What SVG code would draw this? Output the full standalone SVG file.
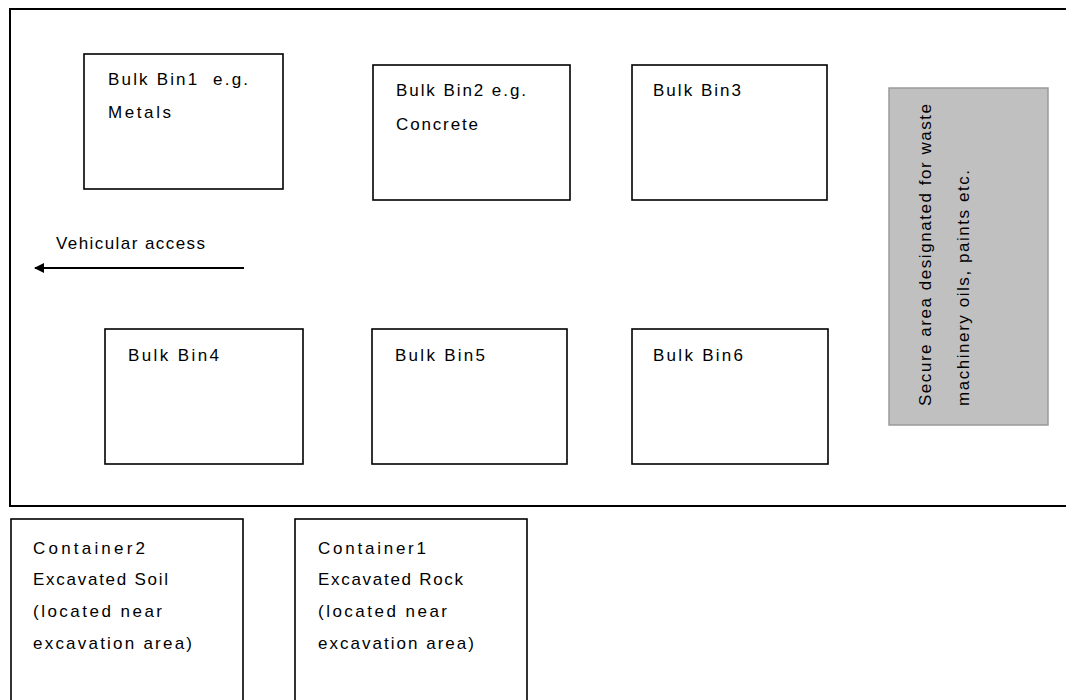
<svg xmlns="http://www.w3.org/2000/svg" width="1066" height="700" viewBox="0 0 1066 700">
<style>
.box{fill:#fff;stroke:#000;stroke-width:1.6}
.frame{fill:#fff;stroke:#000;stroke-width:2}
.grey{fill:#c0c0c0;stroke:#9a9a9a;stroke-width:1.5}
.t{font-family:"Liberation Sans",Arial,sans-serif;font-size:17px;fill:#000}
.conn{stroke:#000;stroke-width:2;fill:none}
</style>
<defs>
<marker id="ah" viewBox="0 0 10 10" refX="9" refY="5" markerWidth="6.5" markerHeight="5" orient="auto" markerUnits="strokeWidth">
<path d="M0,0 L10,5 L0,10 z" fill="#000"/>
</marker>
</defs>
<rect width="1066" height="700" fill="#fff"/>
<g id="site">
<rect class="frame" x="10" y="9" width="1070" height="497"/>
</g>
<g id="bin1">
<rect class="box" x="84" y="54" width="199" height="135"/>
<text class="t" x="108" y="85" textLength="140" lengthAdjust="spacing" xml:space="preserve">Bulk Bin1  e.g.</text>
<text class="t" x="108" y="118" textLength="63" lengthAdjust="spacing">Metals</text>
</g>
<g id="bin2">
<rect class="box" x="373" y="65" width="197" height="135"/>
<text class="t" x="396" y="96" textLength="130" lengthAdjust="spacing">Bulk Bin2 e.g.</text>
<text class="t" x="396" y="130" textLength="82" lengthAdjust="spacing">Concrete</text>
</g>
<g id="bin3">
<rect class="box" x="632" y="65" width="195" height="135"/>
<text class="t" x="653" y="96" textLength="88" lengthAdjust="spacing">Bulk Bin3</text>
</g>
<g id="bin4">
<rect class="box" x="105" y="329" width="198" height="135"/>
<text class="t" x="128" y="361" textLength="91" lengthAdjust="spacing">Bulk Bin4</text>
</g>
<g id="bin5">
<rect class="box" x="372" y="329" width="195" height="135"/>
<text class="t" x="395" y="361" textLength="90" lengthAdjust="spacing">Bulk Bin5</text>
</g>
<g id="bin6">
<rect class="box" x="632" y="329" width="196" height="135"/>
<text class="t" x="653" y="361" textLength="90" lengthAdjust="spacing">Bulk Bin6</text>
</g>
<g id="secure-area">
<rect class="grey" x="889" y="88" width="159" height="337"/>
<text class="t" transform="translate(931,406) rotate(-90)" textLength="302" lengthAdjust="spacing">Secure area designated for waste</text>
<text class="t" transform="translate(969,406) rotate(-90)" textLength="236" lengthAdjust="spacing">machinery oils, paints etc.</text>
</g>
<g id="vehicular-label">
<text class="t" x="56" y="249" textLength="149" lengthAdjust="spacing">Vehicular access</text>
</g>
<g id="connectors">
<line class="conn" x1="244" y1="268" x2="35" y2="268" marker-end="url(#ah)"/>
</g>
<g id="container2">
<rect class="box" x="11" y="519" width="232" height="200"/>
<text class="t" x="33" y="554" textLength="112" lengthAdjust="spacing">Container2</text>
<text class="t" x="33" y="585" textLength="135" lengthAdjust="spacing">Excavated Soil</text>
<text class="t" x="33" y="617" textLength="129" lengthAdjust="spacing">(located near</text>
<text class="t" x="33" y="649" textLength="159" lengthAdjust="spacing">excavation area)</text>
</g>
<g id="container1">
<rect class="box" x="295" y="519" width="232" height="200"/>
<text class="t" x="318" y="554" textLength="108" lengthAdjust="spacing">Container1</text>
<text class="t" x="318" y="585" textLength="145" lengthAdjust="spacing">Excavated Rock</text>
<text class="t" x="318" y="617" textLength="129" lengthAdjust="spacing">(located near</text>
<text class="t" x="318" y="649" textLength="156" lengthAdjust="spacing">excavation area)</text>
</g>
</svg>
